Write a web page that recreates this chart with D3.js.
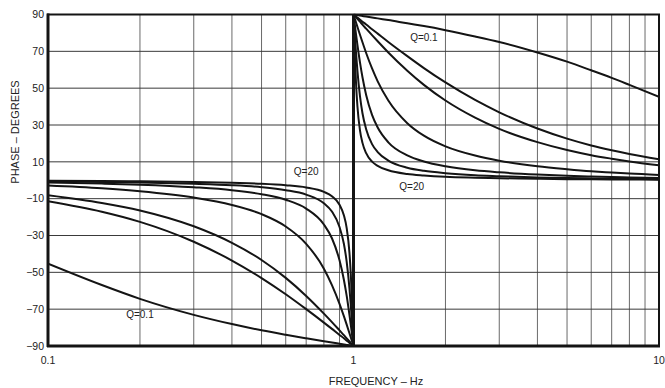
<!DOCTYPE html>
<html><head><meta charset="utf-8">
<script src="https://cdn.jsdelivr.net/npm/d3@7"></script>
<style>
body{margin:0;background:#fff;}
svg{display:block;font-family:"Liberation Sans",Arial,Helvetica,sans-serif;}
</style></head>
<body><svg id="c" width="665" height="388"></svg>
<script>
// ---- data ----
const qLabels = ["0.1","0.5","0.707","2","5","10","20"];
const freqLow  = [0.1,0.15,0.2,0.3,0.4,0.5,0.6,0.7,0.8,0.85,0.9,0.93,0.95,0.97,0.98,0.99,1];
const freqHigh = [1,1.01,1.02,1.03,1.05,1.07,1.1,1.15,1.2,1.3,1.5,1.7,2,2.5,3,4,5,6,7,8,10];

const lowQ0_1  = [-45.3,-56.9,-64.4,-73.1,-78.1,-81.5,-83.9,-85.8,-87.4,-88.1,-88.8,-89.2,-89.4,-89.6,-89.8,-89.9,-90];
const lowQ0_5  = [-11.4,-17.1,-22.6,-33.4,-43.6,-53.1,-61.9,-70.0,-77.3,-80.7,-84.0,-85.8,-87.1,-88.3,-88.8,-89.4,-90];
const lowQ0_707= [-8.1,-12.3,-16.4,-25.0,-34.0,-43.3,-53.0,-62.8,-72.4,-77.0,-81.5,-84.1,-85.9,-87.5,-88.4,-89.2,-90];
const lowQ2    = [-2.9,-4.4,-6.0,-9.4,-13.4,-18.4,-25.1,-34.5,-48.0,-56.9,-67.1,-73.8,-78.4,-83.1,-85.4,-87.7,-90];
const lowQ5    = [-1.2,-1.8,-2.4,-3.8,-5.4,-7.6,-10.6,-15.4,-24.0,-31.5,-43.5,-54.0,-62.8,-73.1,-78.6,-84.3,-90];
const lowQ10   = [-0.6,-0.9,-1.2,-1.9,-2.7,-3.8,-5.4,-7.8,-12.5,-17.0,-25.4,-34.5,-44.3,-58.7,-68.0,-78.6,-90];
const lowQ20   = [-0.3,-0.4,-0.6,-0.9,-1.4,-1.9,-2.7,-3.9,-6.3,-8.7,-13.3,-19.0,-26.0,-39.4,-51.1,-68.1,-90];

const highQ0_1  = [90,89.9,89.8,89.7,89.4,89.2,88.9,88.4,87.9,87.0,85.2,83.7,81.5,78.1,75.1,69.4,64.4,59.7,55.6,51.8,45.3];
const highQ0_5  = [90,89.4,88.9,88.3,87.2,86.1,84.6,82.0,79.6,75.1,67.4,60.9,53.1,43.6,36.9,28.1,22.6,18.9,16.3,14.3,11.4];
const highQ0_707= [90,89.2,88.4,87.6,86.1,84.5,82.3,78.8,75.5,69.4,59.5,51.8,43.3,34.0,27.9,20.7,16.4,13.6,11.7,10.2,8.1];
const highQ2    = [90,87.7,85.5,83.3,79.0,74.9,69.1,60.7,53.7,43.3,31.0,24.2,18.4,13.4,10.6,7.6,6.0,4.9,4.2,3.6,2.9];
const highQ5    = [90,84.3,78.8,73.5,64.0,55.9,46.3,35.5,28.6,20.6,13.5,10.2,7.6,5.4,4.3,3.1,2.4,2.0,1.7,1.5,1.2];
const highQ10   = [90,78.8,68.4,59.4,45.7,36.4,27.7,19.6,15.3,10.7,6.8,5.1,3.8,2.7,2.2,1.5,1.2,1.0,0.8,0.7,0.6];
const highQ20   = [90,68.3,51.6,40.2,27.1,20.3,14.7,10.1,7.8,5.4,3.4,2.6,1.9,1.4,1.1,0.8,0.6,0.5,0.4,0.4,0.3];

const yTicks = [90,70,50,30,10,-10,-30,-50,-70,-90];
const xTickLabels = [0.1,1,10];
const xTitle = "FREQUENCY – Hz";
const yTitle = "PHASE – DEGREES";
const curveLabels = [
  {text:"Q=0.1", f:1.70, p:77.3},
  {text:"Q=20",  f:0.70, p:4.5},
  {text:"Q=20",  f:1.55, p:-3.5},
  {text:"Q=0.1", f:0.2,  p:-72.8}
];

// ---- layout ----
const L=48, R=659, T=14.5, B=346;
const svg=d3.select("#c");
const x=d3.scaleLog().domain([0.1,10]).range([L,R]);
const y=d3.scaleLinear().domain([-90,90]).range([B,T]);

// grid
const minor=[];
[0.1,1].forEach(d=>{for(let k=2;k<=9;k++) minor.push(d*k);});
svg.append("g").selectAll("line").data(minor).join("line")
  .attr("x1",d=>x(d)).attr("x2",d=>x(d)).attr("y1",T).attr("y2",B)
  .attr("stroke","#6a6a6a").attr("stroke-width",1);
svg.append("g").selectAll("line").data(yTicks.slice(1,-1)).join("line")
  .attr("x1",L).attr("x2",R).attr("y1",d=>y(d)).attr("y2",d=>y(d))
  .attr("stroke","#3a3a3a").attr("stroke-width",1);

// curves
svg.append("clipPath").attr("id","pa").append("rect")
  .attr("x",L).attr("y",T-1).attr("width",R-L).attr("height",B-T+2);
const lowSeries=[lowQ0_1,lowQ0_5,lowQ0_707,lowQ2,lowQ5,lowQ10,lowQ20];
const highSeries=[highQ0_1,highQ0_5,highQ0_707,highQ2,highQ5,highQ10,highQ20];
const line=d3.line().x(d=>x(d[0])).y(d=>y(d[1])).curve(d3.curveMonotoneX);
const cg=svg.append("g").attr("clip-path","url(#pa)");
qLabels.forEach((q,i)=>{
  cg.append("path").attr("d",line(freqLow.map((f,j)=>[f,lowSeries[i][j]])))
    .attr("fill","none").attr("stroke","#141414").attr("stroke-width",2);
  cg.append("path").attr("d",line(freqHigh.map((f,j)=>[f,highSeries[i][j]])))
    .attr("fill","none").attr("stroke","#141414").attr("stroke-width",2);
});
// vertical jump at f = 1
svg.append("line").attr("x1",x(1)).attr("x2",x(1)).attr("y1",T).attr("y2",B)
  .attr("stroke","#141414").attr("stroke-width",3);

// frame
svg.append("rect").attr("x",L).attr("y",T).attr("width",R-L).attr("height",B-T)
  .attr("fill","none").attr("stroke","#141414").attr("stroke-width",2);
svg.append("line").attr("x1",L).attr("x2",L).attr("y1",T-1).attr("y2",B+1)
  .attr("stroke","#141414").attr("stroke-width",3);
svg.append("line").attr("x1",L-1).attr("x2",R+1).attr("y1",B).attr("y2",B)
  .attr("stroke","#141414").attr("stroke-width",3);

// tick labels
const fmt=d=>d<0?"\u2212"+Math.abs(d):String(d);
svg.append("g").selectAll("text").data(yTicks).join("text")
  .attr("x",L-4).attr("y",d=>y(d)).attr("dy","0.35em")
  .attr("text-anchor","end").attr("font-size",10.5).attr("fill","#222").text(fmt);
svg.append("g").selectAll("text").data(xTickLabels).join("text")
  .attr("x",d=>x(d)).attr("y",B+18).attr("text-anchor","middle")
  .attr("font-size",10.5).attr("fill","#222").text(d=>String(d));

// axis titles
svg.append("text").attr("x",376).attr("y",385).attr("text-anchor","middle")
  .attr("font-size",11).attr("fill","#222").text(xTitle);
svg.append("text").attr("transform","translate(19,132) rotate(-90)")
  .attr("text-anchor","middle").attr("font-size",11).attr("fill","#222").text(yTitle);

// curve labels
svg.append("g").selectAll("text").data(curveLabels).join("text")
  .attr("x",d=>x(d.f)).attr("y",d=>y(d.p)).attr("dy","0.35em")
  .attr("text-anchor","middle").attr("font-size",10).attr("fill","#222").text(d=>d.text);
</script></body></html>
